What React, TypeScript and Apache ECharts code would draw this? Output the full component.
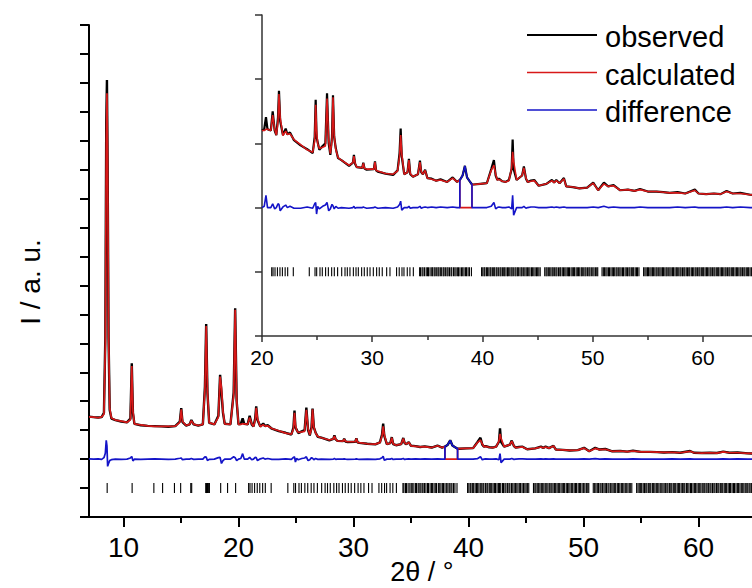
import React, { useEffect, useRef } from "react";
import * as echarts from "echarts";

// 2θ grid (degrees)
const twoTheta = [
  7.0, 7.4, 7.8, 8.1, 8.3, 8.42, 8.5, 8.56, 8.62, 8.7, 8.8, 8.95, 9.3, 9.8, 10.3, 10.6, 10.72, 10.82, 10.95, 11.5,
  12.1, 12.7, 13.3, 13.9, 14.5, 14.9, 15.02, 15.13, 15.45, 15.75, 15.9, 16.1, 16.5, 16.9, 17.08, 17.19, 17.3, 17.45, 17.9, 18.25, 18.4, 18.52, 18.65, 18.8, 19.3, 19.58, 19.71, 19.84, 20.0,
  20.2, 20.36, 20.5, 20.8, 20.97, 21.15, 21.3, 21.45, 21.54, 21.65, 21.9, 22.15, 22.3, 22.54, 22.9, 23.5, 24.1, 24.6, 24.78, 24.87, 24.95, 25.05, 25.2, 25.5, 25.75, 25.9, 26.05, 26.2, 26.35, 26.44, 26.55, 26.7, 26.9, 27.2,
  27.9, 28.25, 28.34, 28.45, 28.6, 29.1, 29.19, 29.3, 29.5, 30.15, 30.25, 30.35, 30.5, 31.2, 31.9, 32.3, 32.48, 32.58, 32.68, 32.9, 33.2, 33.33, 33.45, 33.7, 34.15, 34.33, 34.45, 34.6, 34.8, 35.0, 35.4, 35.8, 36.2, 36.8, 37.3, 37.7,
  37.95, 38.2, 38.41, 38.6, 38.8, 39.05,
  39.2, 39.8, 40.4, 40.8, 41.04, 41.2, 41.35, 41.5, 41.8, 42.1, 42.4, 42.65, 42.74, 42.83, 43.1, 43.6, 43.76, 43.95, 44.1, 44.4, 44.7, 45.1, 45.8, 46.3, 46.5, 46.7, 47.0, 47.39, 47.6, 48.2, 48.8, 49.5, 50.05, 50.5,
  51.02, 51.4, 51.9, 52.5, 53.2, 53.8, 54.3, 55.0, 55.8, 56.4, 57.0, 57.7, 58.4, 59.27, 59.6, 60.3, 61.0, 61.6, 62.15, 62.7, 63.4, 64.3, 65.0,
];

// observed intensity (a. u.)
const observed = [
  3.47, 3.45, 3.44, 3.45, 3.6, 6.2, 13.6, 15.1, 12.2, 6.2, 3.7, 3.4, 3.35, 3.3, 3.27, 3.4, 5.31, 3.6, 3.22, 3.17,
  3.15, 3.14, 3.13, 3.12, 3.14, 3.3, 3.76, 3.28, 3.16, 3.2, 3.35, 3.2, 3.16, 3.2, 4.5, 6.67, 4.3, 3.25, 3.2, 3.5, 4.91, 4.3, 3.6, 3.22, 3.2, 4.3, 7.21, 4.0, 3.2,
  3.22, 3.41, 3.22, 3.2, 3.5, 3.2, 3.13, 3.4, 3.82, 3.35, 3.13, 3.23, 3.14, 3.17, 3.05, 2.97, 2.91, 2.85, 3.1, 3.68, 3.1, 3.02, 2.9, 2.96, 3.0, 3.78, 3.0, 2.82, 3.1, 3.75, 3.1, 2.92, 2.77, 2.74,
  2.65, 2.7, 2.82, 2.68, 2.63, 2.62, 2.7, 2.61, 2.59, 2.6, 2.72, 2.58, 2.56, 2.53, 2.51, 2.58, 2.85, 3.23, 2.8, 2.52, 2.55, 2.76, 2.52, 2.48, 2.52, 2.73, 2.55, 2.52, 2.59, 2.46, 2.45, 2.42, 2.44, 2.4, 2.47, 2.4,
  2.43, 2.5, 2.65, 2.47, 2.42, 2.36,
  2.36, 2.37, 2.38, 2.6, 2.74, 2.5, 2.43, 2.45, 2.41, 2.4, 2.43, 2.6, 3.06, 2.6, 2.43, 2.5, 2.64, 2.45, 2.4, 2.42, 2.43, 2.34, 2.37, 2.43, 2.39, 2.43, 2.38, 2.46, 2.33, 2.32, 2.3, 2.31, 2.39, 2.27,
  2.39, 2.33, 2.35, 2.27, 2.28, 2.26, 2.29, 2.25, 2.25, 2.24, 2.23, 2.24, 2.22, 2.28, 2.22, 2.21, 2.22, 2.21, 2.26, 2.22, 2.23, 2.2, 2.19,
];

// calculated intensity (null inside the excluded region)
const calculated = [
  3.46, 3.45, 3.43, 3.46, 3.55, 6.0, 12.95, 14.64, 12.45, 6.35, 3.75, 3.42, 3.35, 3.31, 3.27, 3.36, 5.22, 3.66, 3.22, 3.18,
  3.15, 3.13, 3.13, 3.13, 3.14, 3.27, 3.72, 3.3, 3.16, 3.2, 3.33, 3.21, 3.16, 3.2, 4.42, 6.6, 4.35, 3.26, 3.2, 3.45, 4.85, 4.45, 3.65, 3.22, 3.2, 4.22, 7.16, 4.05, 3.2,
  3.2, 3.22, 3.22, 3.2, 3.44, 3.22, 3.13, 3.34, 3.77, 3.4, 3.12, 3.19, 3.14, 3.15, 3.06, 2.98, 2.9, 2.86, 3.04, 3.6, 3.2, 3.0, 2.92, 2.94, 2.96, 3.7, 3.05, 2.84, 3.05, 3.72, 3.12, 2.9, 2.78, 2.74,
  2.66, 2.7, 2.8, 2.69, 2.63, 2.62, 2.69, 2.61, 2.6, 2.6, 2.71, 2.58, 2.57, 2.53, 2.52, 2.57, 2.8, 3.13, 2.84, 2.52, 2.55, 2.74, 2.53, 2.48, 2.52, 2.71, 2.56, 2.52, 2.58, 2.46, 2.44, 2.42, 2.43, 2.4, 2.46, 2.4,
  null, null, null, null, null, null,
  2.36, 2.37, 2.38, 2.58, 2.66, 2.52, 2.43, 2.44, 2.41, 2.4, 2.42, 2.62, 2.87, 2.72, 2.43, 2.5, 2.62, 2.46, 2.4, 2.41, 2.42, 2.34, 2.37, 2.42, 2.39, 2.42, 2.38, 2.45, 2.33, 2.32, 2.3, 2.31, 2.38, 2.27,
  2.37, 2.33, 2.34, 2.27, 2.28, 2.26, 2.28, 2.25, 2.25, 2.24, 2.23, 2.23, 2.22, 2.27, 2.22, 2.21, 2.22, 2.21, 2.25, 2.22, 2.22, 2.2, 2.19,
];

const excludedRange = [37.95, 39.05];
const differenceOffset = 2;
const reflectionLevel = 1;

// Bragg reflection positions (2θ)
const reflections = [
  8.58, 10.75, 12.64, 13.4, 14.43, 14.97, 15.85, 15.93, 17.15, 17.22, 17.3, 17.38, 17.47, 18.45, 19.05, 19.75,
  20.88, 21.0, 21.18, 21.4, 21.63, 21.85, 22.1, 22.33, 22.84,
  24.29, 24.81, 24.96, 25.26, 25.47, 25.77, 26.02, 26.32, 26.56, 26.86, 27.23, 27.53, 27.74, 27.98, 28.29, 28.53,
  28.74, 29.04, 29.28, 29.55, 29.8, 30.1, 30.4, 30.64, 30.91, 31.31, 31.61, 32.21, 32.45, 32.7, 32.88, 33.18, 33.42, 33.73,
  34.3, 34.38, 34.52, 34.61, 34.75, 34.9, 35.02, 35.11, 35.25, 35.4, 35.48, 35.62, 35.71, 35.85, 35.97, 36.05, 36.18,
  36.3, 36.44, 36.52, 36.66, 36.79, 36.88, 37.01, 37.15, 37.22, 37.38, 37.5, 37.61, 37.75, 37.83, 37.96, 38.1, 38.21,
  38.33, 38.47, 38.56, 38.7, 38.82, 39.0,
  39.92, 40.03, 40.15, 40.22, 40.36, 40.45, 40.58, 40.7, 40.77, 40.9, 41.02, 41.11, 41.25, 41.33, 41.47, 41.6, 41.68,
  41.81, 41.93, 42.02, 42.14, 42.27, 42.35, 42.48, 42.6, 42.69, 42.8, 42.95, 43.04, 43.17, 43.26, 43.4, 43.52, 43.6,
  43.74, 43.85, 43.97, 44.08, 44.2, 44.31, 44.45, 44.53, 44.66, 44.78, 44.9, 45.01, 45.12, 45.24,
  45.65, 45.77, 45.86, 45.98, 46.1, 46.21, 46.33, 46.42, 46.55, 46.67, 46.76, 46.9, 47.02, 47.1, 47.24, 47.35, 47.47,
  47.58, 47.7, 47.81, 47.9, 48.04, 48.15, 48.27, 48.36, 48.5, 48.61, 48.72, 48.83, 48.97, 49.06, 49.19, 49.31, 49.4,
  49.54, 49.66, 49.75, 49.88, 50.01, 50.12, 50.25, 50.37, 50.46,
  50.85, 50.97, 51.08, 51.2, 51.31, 51.44, 51.53, 51.66, 51.78, 51.89, 52.0, 52.13, 52.22, 52.36, 52.47, 52.58, 52.71,
  52.8, 52.94, 53.05, 53.16, 53.29, 53.38, 53.51, 53.63, 53.72, 53.86, 53.98, 54.07, 54.2,
  54.62, 54.74, 54.85, 54.97, 55.06, 55.19, 55.3, 55.42, 55.51, 55.64, 55.76, 55.85, 55.99, 56.1, 56.21, 56.33, 56.42,
  56.55, 56.67, 56.76, 56.9, 57.01, 57.12, 57.25, 57.34, 57.47, 57.59, 57.68, 57.81, 57.93, 58.02, 58.15, 58.27, 58.36,
  58.49, 58.6, 58.72, 58.81, 58.95, 59.06, 59.17, 59.3, 59.39, 59.52, 59.64, 59.73, 59.86, 59.98, 60.07, 60.2, 60.32,
  60.41, 60.54, 60.66, 60.75, 60.88, 61.0, 61.09, 61.22, 61.34, 61.43, 61.56, 61.68, 61.77, 61.9, 62.02, 62.11, 62.24,
  62.36, 62.45, 62.58, 62.7, 62.79, 62.92, 63.04, 63.13, 63.26, 63.38, 63.47, 63.6, 63.72, 63.81, 63.94, 64.06, 64.15,
  64.28, 64.4, 64.49, 64.62, 64.74, 64.83, 64.96,
];

const mainTickLabels = [10, 20, 30, 40, 50, 60];
const mainMinorTicks = [15, 25, 35, 45, 55];
const insetTickLabels = [20, 30, 40, 50, 60];
const insetMinorTicks = [25, 35, 45, 55];
const insetStart = 20;

const legendNames = ["observed", "calculated", "difference"];
const legendColors = ["#000000", "#d81818", "#1414c8"];

const FONT = '"Liberation Sans", Arial, Helvetica, sans-serif';

function buildProfile() {
  const obs: number[][] = [];
  const calc: number[][] = [];
  const diff: number[][] = [];
  let prevEx = false;
  for (let i = 0; i < twoTheta.length; i++) {
    const x = twoTheta[i];
    const ex = x >= excludedRange[0] && x <= excludedRange[1];
    obs.push([x, observed[i]]);
    if (ex && !prevEx) {
      diff.push([x, differenceOffset]);
      calc.push([x, observed[i]]);
    }
    if (!ex && prevEx) {
      const px = twoTheta[i - 1];
      diff.push([px, differenceOffset]);
      calc.push([px, differenceOffset]);
      calc.push([px, observed[i - 1]]);
    }
    if (ex) {
      diff.push([x, observed[i]]);
      calc.push([x, differenceOffset]);
    } else {
      const c = calculated[i] as number;
      diff.push([x, differenceOffset + observed[i] - c]);
      calc.push([x, c]);
    }
    prevEx = ex;
  }
  return { obs, calc, diff };
}

export default function App() {
  const ref = useRef<HTMLDivElement>(null);
  useEffect(() => {
    if (!ref.current) return;
    const chart = echarts.init(ref.current, undefined, { renderer: "svg" });
    const { obs, calc, diff } = buildProfile();
    const inInset = (p: number[]) => p[0] >= insetStart;
    const marks = reflections.map((x) => [x, reflectionLevel]);

    const lineSeries = (name: string, data: number[][], color: string, width: number, xi: number, yi: number) => ({
      name,
      type: "line",
      xAxisIndex: xi,
      yAxisIndex: yi,
      data,
      showSymbol: false,
      symbol: "none",
      smooth: false,
      lineStyle: { color, width },
      itemStyle: { color },
      silent: true,
      z: 3,
    });

    const markSeries = (xi: number, yi: number, h: number, data: number[][]) => ({
      type: "scatter",
      xAxisIndex: xi,
      yAxisIndex: yi,
      data,
      symbol: "rect",
      symbolSize: [1.1, h],
      itemStyle: { color: "#000000", opacity: 1 },
      silent: true,
      z: 2,
    });

    const option: any = {
      animation: false,
      backgroundColor: "#ffffff",
      grid: [
        { left: 89, top: 25, width: 667, height: 492, outerBoundsMode: "none", containLabel: false },
        { left: 262, top: 15, width: 496, height: 321, outerBoundsMode: "none", containLabel: false },
      ],
      xAxis: [
        {
          type: "value", gridIndex: 0, min: 7, max: 65, position: "bottom",
          axisLine: { show: true, lineStyle: { color: "#000", width: 2 } },
          axisTick: { show: true, customValues: mainTickLabels, length: 10, lineStyle: { color: "#000", width: 2 } },
          axisLabel: { show: true, customValues: mainTickLabels, fontSize: 28, fontFamily: FONT, color: "#000", margin: 16 },
          splitLine: { show: false },
        },
        {
          type: "value", gridIndex: 0, min: 7, max: 65, position: "bottom",
          axisLine: { show: false },
          axisTick: { show: true, customValues: mainMinorTicks, length: 6, lineStyle: { color: "#000", width: 2 } },
          axisLabel: { show: false },
          splitLine: { show: false },
        },
        {
          type: "value", gridIndex: 1, min: insetStart, max: 65, position: "bottom",
          axisLine: { show: true, lineStyle: { color: "#333", width: 1.5 } },
          axisTick: { show: true, customValues: insetTickLabels, length: 6, lineStyle: { color: "#333", width: 1.5 } },
          axisLabel: { show: true, customValues: insetTickLabels, fontSize: 21, fontFamily: FONT, color: "#000", margin: 11 },
          splitLine: { show: false },
        },
        {
          type: "value", gridIndex: 1, min: insetStart, max: 65, position: "bottom",
          axisLine: { show: false },
          axisTick: { show: true, customValues: insetMinorTicks, length: 4, lineStyle: { color: "#333", width: 1.5 } },
          axisLabel: { show: false },
          splitLine: { show: false },
        },
      ],
      yAxis: [
        {
          type: "value", gridIndex: 0, min: 0, max: 17, interval: 1,
          axisLine: { show: true, lineStyle: { color: "#000", width: 2 } },
          axisTick: { show: true, length: 9, lineStyle: { color: "#000", width: 2 } },
          axisLabel: { show: false },
          splitLine: { show: false },
        },
        {
          type: "value", gridIndex: 1, min: 0, max: 5, interval: 1,
          axisLine: { show: true, lineStyle: { color: "#333", width: 1.5 } },
          axisTick: { show: true, length: 7, lineStyle: { color: "#333", width: 1.5 } },
          axisLabel: { show: false },
          splitLine: { show: false },
        },
      ],
      series: [
        markSeries(0, 0, 10, marks),
        lineSeries("observed", obs, legendColors[0], 2.4, 0, 0),
        lineSeries("calculated", calc, legendColors[1], 1.7, 0, 0),
        lineSeries("difference", diff, legendColors[2], 1.7, 0, 0),
        markSeries(2, 1, 9, marks.filter(inInset)),
        lineSeries("observed", obs.filter(inInset), legendColors[0], 2.2, 2, 1),
        lineSeries("calculated", calc.filter(inInset), legendColors[1], 1.6, 2, 1),
        lineSeries("difference", diff.filter(inInset), legendColors[2], 1.6, 2, 1),
      ],
      graphic: [
        {
          type: "text", x: 30, y: 282, rotation: Math.PI / 2,
          style: { text: "I / a. u.", fontSize: 28, fontFamily: FONT, fill: "#000", align: "center", verticalAlign: "middle" },
        },
        {
          type: "text", x: 422, y: 572,
          style: { text: "2θ / °", fontSize: 27, fontFamily: FONT, fill: "#000", align: "center", verticalAlign: "middle" },
        },
        ...legendNames.flatMap((n, i) => [
          {
            type: "line",
            shape: { x1: 527, y1: 35 + i * 37.5, x2: 597, y2: 35 + i * 37.5 },
            style: { stroke: legendColors[i], lineWidth: i === 0 ? 2 : 1.6 },
          },
          {
            type: "text", x: 605, y: 37 + i * 37.5,
            style: { text: n, fontSize: 29, fontFamily: FONT, fill: "#000", align: "left", verticalAlign: "middle" },
          },
        ]),
      ],
    };
    chart.setOption(option);
    return () => chart.dispose();
  }, []);
  return (
    <div
      ref={ref}
      style={{ position: "fixed", left: 0, top: 0, width: 752, height: 588, background: "#fff" }}
    />
  );
}
